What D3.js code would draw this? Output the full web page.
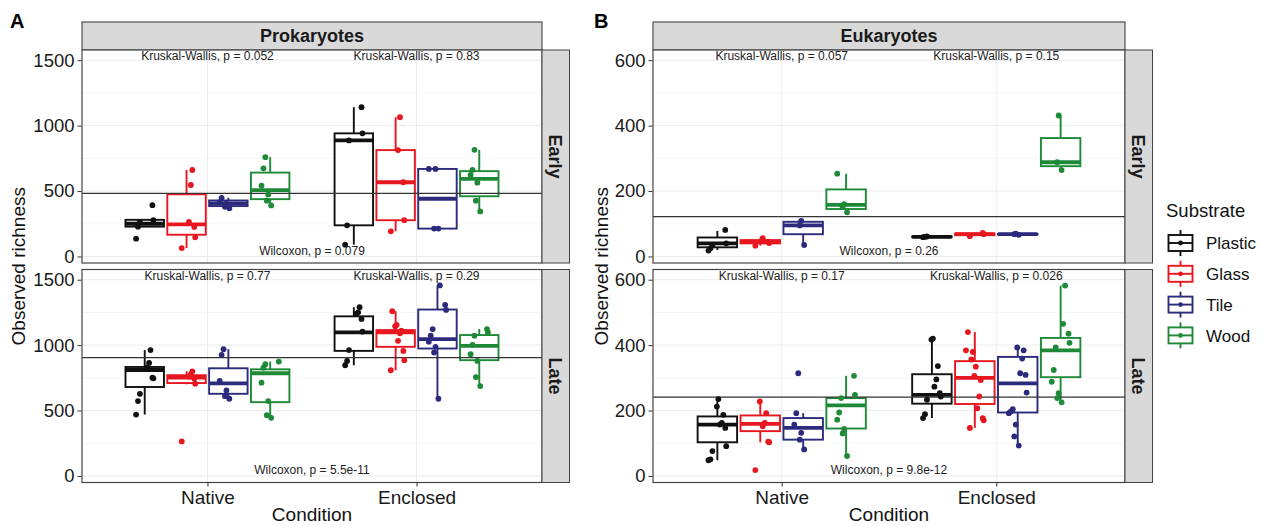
<!DOCTYPE html>
<html>
<head>
<meta charset="utf-8" />
<title>Observed richness</title>
<style>
*{margin:0;padding:0;}
body{background:#fff;}
text{font-family:"Liberation Sans", Arial, Helvetica, sans-serif;}
</style>
</head>
<body>
<svg id="chart" width="1262" height="526"></svg>
<script src="https://cdn.jsdelivr.net/npm/d3@7"></script>
<script>
// ---- data ----
var conditions = ["Native", "Enclosed"];
var substrates = ["Plastic", "Glass", "Tile", "Wood"];
var colours = ["#111111", "#e8161e", "#2c2a7c", "#1e8a37"];

// [condition, substrate, lower whisker, q1, median, q3, upper whisker]
var prokEarlyBox = [
  ["Native", "Plastic", 228, 228, 250, 280, 280],
  ["Native", "Glass", 64, 166, 245, 475, 661],
  ["Native", "Tile", 368, 385, 405, 428, 448],
  ["Native", "Wood", 390, 438, 507, 641, 759],
  ["Enclosed", "Plastic", 90, 238, 887, 941, 1141],
  ["Enclosed", "Glass", 192, 277, 567, 813, 1064],
  ["Enclosed", "Tile", 213, 213, 441, 669, 669],
  ["Enclosed", "Wood", 344, 460, 593, 652, 815]
];
var prokEarlyPts = [
  ["Native", "Plastic", [136, 228, 262, 277, 392]],
  ["Native", "Glass", [64, 146, 226, 264, 546, 661]],
  ["Native", "Tile", [368, 380, 405, 415, 448]],
  ["Native", "Wood", [390, 426, 474, 541, 674, 759]],
  ["Enclosed", "Plastic", [90, 238, 887, 941, 1141]],
  ["Enclosed", "Glass", [192, 277, 567, 813, 1064]],
  ["Enclosed", "Tile", [213, 213, 669, 669]],
  ["Enclosed", "Wood", [344, 426, 564, 623, 662, 815]]
];
var prokLateBox = [
  ["Native", "Plastic", 469, 680, 810, 833, 962],
  ["Native", "Glass", 700, 710, 752, 770, 800],
  ["Native", "Tile", 590, 628, 708, 823, 969],
  ["Native", "Wood", 444, 564, 785, 815, 874],
  ["Enclosed", "Plastic", 846, 956, 1097, 1220, 1290],
  ["Enclosed", "Glass", 808, 987, 1097, 1115, 1259],
  ["Enclosed", "Tile", 590, 974, 1046, 1272, 1456],
  ["Enclosed", "Wood", 687, 885, 995, 1077, 1123]
];
var prokLatePts = [
  ["Native", "Plastic", [469, 572, 628, 746, 751, 828, 864, 962]],
  ["Native", "Glass", [264, 705, 745, 760, 777, 800]],
  ["Native", "Tile", [590, 610, 654, 726, 926, 969]],
  ["Native", "Wood", [444, 464, 572, 713, 828, 854, 874]],
  ["Enclosed", "Plastic", [846, 879, 962, 1103, 1200, 1238, 1251, 1290]],
  ["Enclosed", "Glass", [808, 885, 956, 1033, 1090, 1110, 1144, 1154, 1259]],
  ["Enclosed", "Tile", [590, 944, 987, 1026, 1072, 1123, 1269, 1308, 1456]],
  ["Enclosed", "Wood", [687, 756, 879, 931, 1002, 1072, 1097, 1123]]
];
var eukEarlyBox = [
  ["Native", "Plastic", 20, 28, 40, 58, 78],
  ["Native", "Glass", 33, 40, 45, 50, 56],
  ["Native", "Tile", 35, 68, 95, 106, 109],
  ["Native", "Wood", 135, 145, 158, 205, 253],
  ["Enclosed", "Plastic", 58, 59, 60, 61, 62],
  ["Enclosed", "Glass", 62, 65, 68, 70, 72],
  ["Enclosed", "Tile", 66, 67, 68, 69, 70],
  ["Enclosed", "Wood", 264, 276, 288, 362, 431]
];
var eukEarlyPts = [
  ["Native", "Plastic", [18, 25, 35, 40, 81]],
  ["Native", "Glass", [33, 41, 45, 56]],
  ["Native", "Tile", [35, 95, 109]],
  ["Native", "Wood", [135, 152, 160, 253]],
  ["Enclosed", "Plastic", [59, 60, 61]],
  ["Enclosed", "Glass", [62, 68, 72]],
  ["Enclosed", "Tile", [66, 68, 70]],
  ["Enclosed", "Wood", [264, 288, 431]]
];
var eukLateBox = [
  ["Native", "Plastic", 48, 103, 157, 182, 235],
  ["Native", "Glass", 103, 137, 159, 185, 231],
  ["Native", "Tile", 81, 111, 147, 177, 192],
  ["Native", "Wood", 61, 145, 216, 238, 306],
  ["Enclosed", "Plastic", 177, 221, 248, 311, 420],
  ["Enclosed", "Glass", 147, 220, 300, 351, 440],
  ["Enclosed", "Tile", 93, 194, 283, 364, 393],
  ["Enclosed", "Wood", 225, 302, 384, 422, 582]
];
var eukLatePts = [
  ["Native", "Plastic", [48, 51, 76, 91, 147, 157, 162, 187, 212, 235]],
  ["Native", "Glass", [18, 103, 105, 152, 162, 192, 228]],
  ["Native", "Tile", [81, 111, 132, 157, 192, 314]],
  ["Native", "Wood", [61, 130, 144, 172, 194, 238, 248, 306]],
  ["Enclosed", "Plastic", [177, 189, 233, 243, 253, 273, 295, 336, 417, 420]],
  ["Enclosed", "Glass", [147, 170, 177, 207, 243, 293, 306, 334, 356, 379, 384, 440]],
  ["Enclosed", "Tile", [93, 121, 157, 192, 197, 204, 255, 309, 314, 359, 384, 393]],
  ["Enclosed", "Wood", [225, 238, 253, 288, 324, 393, 407, 435, 465, 582]]
];

// overall mean lines [Early, Late]
var prokMean = [482, 905];
var eukMean = [122, 241];
// Kruskal-Wallis p per condition, [Early, Late]
var prokKW = [["0.052", "0.83"], ["0.77", "0.29"]];
var eukKW = [["0.057", "0.15"], ["0.17", "0.026"]];
// Wilcoxon p, [Early, Late]
var prokWil = ["0.079", "5.5e-11"];
var eukWil = ["0.26", "9.8e-12"];

var prokTicks = [0, 500, 1000, 1500];
var eukTicks = [0, 200, 400, 600];

// ---- layout ----
var svg = d3.select("#chart");
var stripTop = 22, panelTop = [50, 269.5], panelH = 213;
var jitter = [-0.7, 0.45, -0.2, 0.8, 0.1, -0.5, 0.6, -0.9, 0.25, -0.35, 0.9, -0.05];
var colour = d3.scaleOrdinal().domain(substrates).range(colours);
var lw = 1.9;

var figures = [
  { tag: "A", tagX: 10, title: "Prokaryotes", x0: 82, x1: 542, domain: [-50, 1578],
    ticks: prokTicks, titleX: 18, kwY: 1530, wilY: 45,
    rows: [
      { stage: "Early", box: prokEarlyBox, pts: prokEarlyPts, mean: prokMean[0], kw: prokKW[0], wil: prokWil[0] },
      { stage: "Late", box: prokLateBox, pts: prokLatePts, mean: prokMean[1], kw: prokKW[1], wil: prokWil[1] }
    ] },
  { tag: "B", tagX: 594, title: "Eukaryotes", x0: 653, x1: 1125, domain: [-20, 631.2],
    ticks: eukTicks, titleX: 601, kwY: 612, wilY: 18,
    rows: [
      { stage: "Early", box: eukEarlyBox, pts: eukEarlyPts, mean: eukMean[0], kw: eukKW[0], wil: eukWil[0] },
      { stage: "Late", box: eukLateBox, pts: eukLatePts, mean: eukMean[1], kw: eukKW[1], wil: eukWil[1] }
    ] }
];

figures.forEach(function (f) {
  var x = d3.scalePoint().domain(conditions).range([f.x0, f.x1]).padding(0.6);
  var step = x.step();
  var dodge = d3.scaleBand().domain(substrates).range([-0.4 * step, 0.4 * step]);
  var bw = dodge.bandwidth() * 0.92;
  var cx = function (c, s) { return x(c) + dodge(s) + dodge.bandwidth() / 2; };
  var minor = d3.range(0, f.ticks.length - 1).map(function (i) { return (f.ticks[i] + f.ticks[i + 1]) / 2; });

  // tag letter
  svg.append("text").attr("x", f.tagX).attr("y", 28)
    .attr("font-size", 20).attr("font-weight", "bold").text(f.tag);

  // column strip
  svg.append("rect").attr("x", f.x0).attr("y", stripTop).attr("width", f.x1 - f.x0).attr("height", panelTop[0] - stripTop)
    .attr("fill", "#d9d9d9").attr("stroke", "#333").attr("stroke-width", 1);
  svg.append("text").attr("x", (f.x0 + f.x1) / 2).attr("y", (stripTop + panelTop[0]) / 2).attr("dy", "0.36em")
    .attr("text-anchor", "middle").attr("font-size", 18).attr("font-weight", "bold").attr("fill", "#1a1a1a").text(f.title);

  f.rows.forEach(function (r, ri) {
    var top = panelTop[ri];
    var y = d3.scaleLinear().domain(f.domain).range([top + panelH, top]);
    var g = svg.append("g");

    g.append("rect").attr("x", f.x0).attr("y", top).attr("width", f.x1 - f.x0).attr("height", panelH).attr("fill", "#fff");

    // grid
    g.selectAll(".minor").data(minor).enter().append("line")
      .attr("x1", f.x0).attr("x2", f.x1).attr("y1", function (d) { return y(d); }).attr("y2", function (d) { return y(d); })
      .attr("stroke", "#f2f2f2").attr("stroke-width", 0.7);
    g.selectAll(".major").data(f.ticks).enter().append("line")
      .attr("x1", f.x0).attr("x2", f.x1).attr("y1", function (d) { return y(d); }).attr("y2", function (d) { return y(d); })
      .attr("stroke", "#ebebeb").attr("stroke-width", 1);
    g.selectAll(".xgrid").data(conditions).enter().append("line")
      .attr("x1", function (d) { return x(d); }).attr("x2", function (d) { return x(d); })
      .attr("y1", top).attr("y2", top + panelH).attr("stroke", "#ebebeb").attr("stroke-width", 1);

    // boxplots
    var boxes = g.selectAll(".box").data(r.box).enter().append("g");
    boxes.append("line")
      .attr("x1", function (d) { return cx(d[0], d[1]); }).attr("x2", function (d) { return cx(d[0], d[1]); })
      .attr("y1", function (d) { return y(d[2]); }).attr("y2", function (d) { return y(d[3]); })
      .attr("stroke", function (d) { return colour(d[1]); }).attr("stroke-width", lw);
    boxes.append("line")
      .attr("x1", function (d) { return cx(d[0], d[1]); }).attr("x2", function (d) { return cx(d[0], d[1]); })
      .attr("y1", function (d) { return y(d[5]); }).attr("y2", function (d) { return y(d[6]); })
      .attr("stroke", function (d) { return colour(d[1]); }).attr("stroke-width", lw);
    boxes.append("rect")
      .attr("x", function (d) { return cx(d[0], d[1]) - bw / 2; }).attr("width", bw)
      .attr("y", function (d) { return y(d[5]); })
      .attr("height", function (d) { return Math.max(0.5, y(d[3]) - y(d[5])); })
      .attr("fill", "#fff").attr("stroke", function (d) { return colour(d[1]); }).attr("stroke-width", lw);
    boxes.append("line")
      .attr("x1", function (d) { return cx(d[0], d[1]) - bw / 2; }).attr("x2", function (d) { return cx(d[0], d[1]) + bw / 2; })
      .attr("y1", function (d) { return y(d[4]); }).attr("y2", function (d) { return y(d[4]); })
      .attr("stroke", function (d) { return colour(d[1]); }).attr("stroke-width", 3.8);

    // mean line
    g.append("line").attr("x1", f.x0).attr("x2", f.x1).attr("y1", y(r.mean)).attr("y2", y(r.mean))
      .attr("stroke", "#333").attr("stroke-width", 1.2);

    // jittered points
    var pts = [];
    r.pts.forEach(function (p) {
      p[2].forEach(function (v, i) { pts.push({ c: p[0], s: p[1], v: v, j: jitter[(i * 5 + p[1].length) % jitter.length] }); });
    });
    g.selectAll(".pt").data(pts).enter().append("circle")
      .attr("cx", function (d) { return cx(d.c, d.s) + d.j * bw * 0.25; })
      .attr("cy", function (d) { return y(d.v); })
      .attr("r", 2.9).attr("fill", function (d) { return colour(d.s); });

    // test labels
    g.selectAll(".kw").data(conditions).enter().append("text")
      .attr("x", function (d) { return x(d); }).attr("y", y(f.kwY)).attr("dy", "0.35em")
      .attr("text-anchor", "middle").attr("font-size", 12).attr("fill", "#222")
      .text(function (d, i) { return "Kruskal-Wallis, p = " + r.kw[i]; });
    g.append("text").attr("x", (f.x0 + f.x1) / 2).attr("y", y(f.wilY)).attr("dy", "0.35em")
      .attr("text-anchor", "middle").attr("font-size", 12).attr("fill", "#222")
      .text("Wilcoxon, p = " + r.wil);

    // border
    g.append("rect").attr("x", f.x0).attr("y", top).attr("width", f.x1 - f.x0).attr("height", panelH)
      .attr("fill", "none").attr("stroke", "#444").attr("stroke-width", 1.2);

    // y axis
    var ax = svg.append("g").attr("transform", "translate(" + (f.x0 - 0.5) + ",0)")
      .call(d3.axisLeft(y).tickValues(f.ticks).tickFormat(d3.format("d")).tickSize(4).tickPadding(3));
    ax.select(".domain").remove();
    ax.selectAll("line").attr("stroke", "#333");
    ax.selectAll("text").attr("font-size", 18.5).attr("fill", "#1a1a1a")
      .attr("font-family", "'Liberation Sans', Arial, sans-serif");

    // row strip
    svg.append("rect").attr("x", f.x1).attr("y", top).attr("width", 27.5).attr("height", panelH)
      .attr("fill", "#d9d9d9").attr("stroke", "#444").attr("stroke-width", 1);
    svg.append("text").attr("transform", "translate(" + (f.x1 + 13.75) + "," + (top + panelH / 2) + ") rotate(90)")
      .attr("dy", "0.36em").attr("text-anchor", "middle").attr("font-size", 18).attr("font-weight", "bold")
      .attr("fill", "#1a1a1a").text(r.stage);
  });

  // x axis
  var bottom = panelTop[1] + panelH;
  var xa = svg.append("g").attr("transform", "translate(0," + bottom + ")")
    .call(d3.axisBottom(x).tickSize(4).tickPadding(4));
  xa.select(".domain").remove();
  xa.selectAll("line").attr("stroke", "#333");
  xa.selectAll("text").attr("font-size", 19).attr("fill", "#1a1a1a")
    .attr("font-family", "'Liberation Sans', Arial, sans-serif");

  svg.append("text").attr("x", (f.x0 + f.x1) / 2).attr("y", 521).attr("text-anchor", "middle")
    .attr("font-size", 19).attr("fill", "#111").text("Condition");
  svg.append("text").attr("transform", "translate(" + f.titleX + "," + ((panelTop[0] + bottom) / 2) + ") rotate(-90)")
    .attr("dy", "0.36em").attr("text-anchor", "middle").attr("font-size", 19).attr("fill", "#111").text("Observed richness");
});

// ---- legend ----
var leg = svg.append("g").attr("transform", "translate(1166,0)");
leg.append("text").attr("x", 0).attr("y", 210).attr("dy", "0.36em").attr("font-size", 18.5).attr("fill", "#111").text("Substrate");
var keys = leg.selectAll(".key").data(substrates).enter().append("g")
  .attr("transform", function (d, i) { return "translate(0," + (243 + i * 30.8) + ")"; });
keys.append("line").attr("x1", 14.5).attr("x2", 14.5).attr("y1", -13).attr("y2", 13)
  .attr("stroke", function (d) { return colour(d); }).attr("stroke-width", lw);
keys.append("rect").attr("x", 2.5).attr("y", -8).attr("width", 24).attr("height", 16)
  .attr("fill", "#fff").attr("stroke", function (d) { return colour(d); }).attr("stroke-width", lw);
keys.append("line").attr("x1", 2.5).attr("x2", 26.5).attr("y1", 0).attr("y2", 0)
  .attr("stroke", function (d) { return colour(d); }).attr("stroke-width", lw);
keys.append("circle").attr("cx", 14.5).attr("cy", 0).attr("r", 2.4).attr("fill", function (d) { return colour(d); });
keys.append("text").attr("x", 40).attr("y", 0).attr("dy", "0.36em").attr("font-size", 17).attr("fill", "#111")
  .text(function (d) { return d; });
</script>
</body>
</html>
